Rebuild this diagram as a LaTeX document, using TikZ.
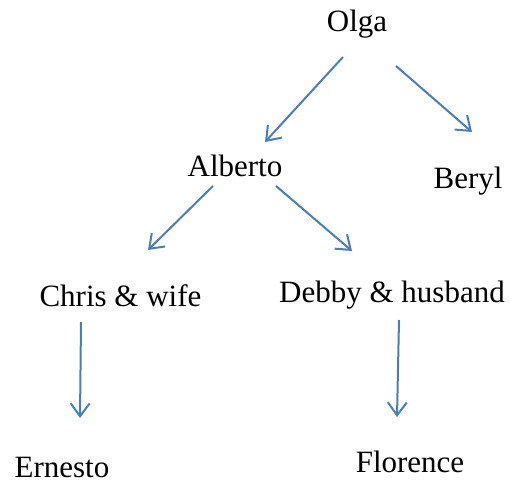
\documentclass[tikz,border=0pt]{standalone}
\usepackage{fontspec}
\setmainfont{Liberation Serif}
\usetikzlibrary{arrows.meta}
\definecolor{arrblue}{HTML}{4A7EBB}
\begin{document}
\begin{tikzpicture}[x=1pt,y=-1pt,
  lbl/.style={inner sep=0pt,anchor=base,font=\fontsize{31}{37}\selectfont},
  arr/.style={draw=arrblue,line width=2pt,-{Straight Barb[length=13pt,width=19pt,line width=2pt]}}]
\useasboundingbox (0,0) rectangle (510,481);
\node[lbl] (olga) at (357,32) {Olga};
\node[lbl] (alberto) at (235,176) {Alberto};
\node[lbl] (beryl) at (468,188) {Beryl};
\node[lbl] (chris) at (120.5,306) {Chris \& wife};
\node[lbl] (debby) at (392,302) {Debby \& husband};
\node[lbl] (ernesto) at (62,477) {Ernesto};
\node[lbl] (florence) at (410,472) {Florence};
\coordinate (oa1) at (343,57); \coordinate (oa2) at (265,142);
\coordinate (ob1) at (396,66); \coordinate (ob2) at (472,132);
\coordinate (ac1) at (213,186); \coordinate (ac2) at (148,250);
\coordinate (ad1) at (276,186); \coordinate (ad2) at (352,251);
\coordinate (ce1) at (81,322); \coordinate (ce2) at (80,418);
\coordinate (df1) at (399,320); \coordinate (df2) at (397,417);
\draw[arr] (oa1) -- (oa2);
\draw[arr] (ob1) -- (ob2);
\draw[arr] (ac1) -- (ac2);
\draw[arr] (ad1) -- (ad2);
\draw[arr] (ce1) -- (ce2);
\draw[arr] (df1) -- (df2);
\end{tikzpicture}
\end{document}
